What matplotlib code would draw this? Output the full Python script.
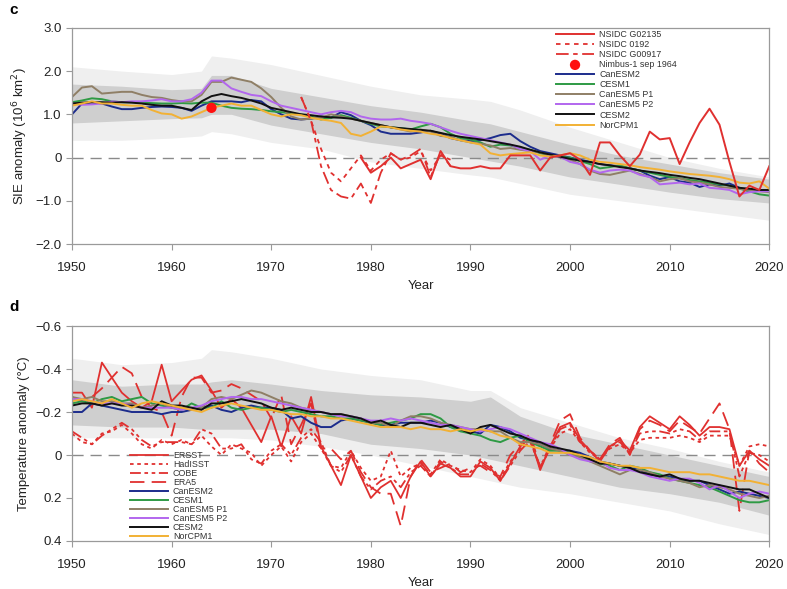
import numpy as np
import matplotlib
matplotlib.use('Agg')
import matplotlib.pyplot as plt

plt.rcParams['font.family'] = ['Liberation Sans', 'DejaVu Sans']

years = list(range(1950, 2021))
band_years = [1950, 1955, 1960, 1963, 1964, 1966, 1970, 1975, 1980, 1985,
              1990, 1992, 1995, 2000, 2005, 2010, 2015, 2020]

model_names = ['CanESM2', 'CESM1', 'CanESM5 P1', 'CanESM5 P2', 'CESM2', 'NorCPM1']
model_colors = ['#1c2c8c', '#2e9a44', '#8f7f66', '#b266ee', '#111111', '#f2b134']

#----- panel c : September sea ice extent anomaly (10^6 km2) -----#
sie_canesm2 = [1.00, 1.25, 1.28, 1.25, 1.18, 1.12, 1.12, 1.15, 1.17, 1.18,
               1.17, 1.15, 1.08, 1.20, 1.30, 1.30, 1.30, 1.28, 1.33, 1.30,
               1.12, 1.00, 0.90, 0.88, 0.90, 0.95, 0.92, 1.05, 0.98, 0.85,
               0.75, 0.60, 0.55, 0.55, 0.55, 0.58, 0.62, 0.55, 0.45, 0.40,
               0.38, 0.40, 0.45, 0.52, 0.55, 0.38, 0.25, 0.15, 0.10, 0.05,
               0.00, -0.05, -0.10, -0.15, -0.18, -0.20, -0.25, -0.30, -0.42, -0.50,
               -0.45, -0.55, -0.58, -0.68, -0.62, -0.65, -0.60, -0.70, -0.78, -0.75,
               -0.78]
sie_cesm1 = [1.28, 1.32, 1.37, 1.35, 1.30, 1.28, 1.28, 1.27, 1.26, 1.25,
             1.25, 1.26, 1.25, 1.27, 1.27, 1.20, 1.15, 1.13, 1.12, 1.10,
             1.07, 1.05, 1.02, 1.00, 0.95, 0.88, 0.92, 0.98, 0.92, 0.85,
             0.78, 0.72, 0.70, 0.68, 0.65, 0.72, 0.78, 0.70, 0.55, 0.45,
             0.42, 0.35, 0.25, 0.30, 0.28, 0.22, 0.18, 0.10, 0.05, 0.02,
             0.00, -0.08, -0.15, -0.25, -0.22, -0.18, -0.25, -0.30, -0.35, -0.40,
             -0.45, -0.48, -0.52, -0.55, -0.58, -0.62, -0.65, -0.72, -0.78, -0.85,
             -0.88]
sie_canesm5_p1 = [1.40, 1.62, 1.65, 1.48, 1.50, 1.52, 1.52, 1.45, 1.40, 1.38,
                  1.33, 1.30, 1.30, 1.45, 1.75, 1.75, 1.85, 1.80, 1.75, 1.60,
                  1.40, 1.15, 0.95, 0.88, 0.90, 0.92, 1.00, 0.95, 0.90, 0.85,
                  0.80, 0.75, 0.70, 0.65, 0.60, 0.65, 0.60, 0.50, 0.48, 0.40,
                  0.35, 0.32, 0.28, 0.20, 0.22, 0.18, 0.15, 0.12, 0.05, 0.00,
                  -0.05, -0.15, -0.30, -0.38, -0.40, -0.35, -0.30, -0.38, -0.45, -0.55,
                  -0.50, -0.48, -0.55, -0.58, -0.62, -0.68, -0.70, -0.72, -0.75, -0.78,
                  -0.80]
sie_canesm5_p2 = [1.25, 1.22, 1.23, 1.25, 1.30, 1.28, 1.30, 1.30, 1.32, 1.35,
                  1.30, 1.30, 1.35, 1.50, 1.78, 1.78, 1.60, 1.52, 1.45, 1.42,
                  1.30, 1.20, 1.15, 1.10, 1.05, 1.00, 1.05, 1.08, 1.05, 0.95,
                  0.90, 0.88, 0.88, 0.90, 0.85, 0.82, 0.78, 0.70, 0.62, 0.55,
                  0.50, 0.45, 0.40, 0.35, 0.30, 0.20, 0.15, -0.05, 0.05, 0.02,
                  -0.10, -0.15, -0.28, -0.35, -0.30, -0.28, -0.30, -0.40, -0.45, -0.62,
                  -0.60, -0.58, -0.62, -0.60, -0.70, -0.72, -0.75, -0.85, -0.80, -0.78,
                  -0.78]
sie_cesm2 = [1.25, 1.27, 1.28, 1.28, 1.27, 1.28, 1.27, 1.25, 1.22, 1.20,
             1.20, 1.15, 1.10, 1.30, 1.42, 1.47, 1.42, 1.38, 1.32, 1.25,
             1.15, 1.10, 1.05, 1.00, 0.98, 0.95, 0.93, 0.92, 0.90, 0.85,
             0.80, 0.75, 0.70, 0.68, 0.66, 0.64, 0.62, 0.57, 0.52, 0.48,
             0.45, 0.42, 0.38, 0.34, 0.30, 0.25, 0.18, 0.12, 0.07, 0.02,
             -0.03, -0.07, -0.10, -0.15, -0.18, -0.22, -0.25, -0.30, -0.33, -0.36,
             -0.40, -0.43, -0.47, -0.50, -0.55, -0.60, -0.65, -0.70, -0.72, -0.75,
             -0.75]
sie_norcpm1 = [1.20, 1.25, 1.30, 1.25, 1.25, 1.22, 1.20, 1.20, 1.10, 1.02,
               1.00, 0.90, 0.95, 1.05, 1.15, 1.20, 1.25, 1.20, 1.20, 1.10,
               1.00, 0.95, 1.00, 0.98, 0.92, 0.88, 0.85, 0.80, 0.55, 0.50,
               0.60, 0.72, 0.70, 0.65, 0.62, 0.60, 0.55, 0.52, 0.45, 0.40,
               0.35, 0.30, 0.10, 0.05, 0.08, 0.10, 0.12, 0.05, 0.02, 0.05,
               0.10, 0.05, -0.05, -0.10, -0.12, -0.15, -0.18, -0.22, -0.25, -0.28,
               -0.32, -0.35, -0.38, -0.40, -0.42, -0.45, -0.50, -0.58, -0.60, -0.55,
               -0.72]

# observations
g02135_years = list(range(1979, 2021))
g02135 = [0.00, -0.35, -0.20, 0.00, -0.25, -0.15, -0.05, -0.50, 0.15, -0.20,
          -0.25, -0.25, -0.20, -0.25, -0.25, 0.05, 0.05, 0.05, -0.30, 0.00,
          0.05, 0.10, -0.05, -0.40, 0.35, 0.35, 0.05, -0.20, 0.07, 0.60,
          0.42, 0.45, -0.15, 0.35, 0.80, 1.13, 0.76, -0.10, -0.90, -0.65,
          -0.75, -0.20]
nsidc0192_years = list(range(1973, 1989))
nsidc0192 = [1.40, 0.85, 0.20, -0.35, -0.55, -0.25, 0.05, -0.30, -0.05, 0.10,
             -0.05, 0.00, 0.15, -0.30, 0.05, -0.05]
g00917_years = list(range(1973, 1989))
g00917 = [1.40, 0.85, -0.20, -0.75, -0.90, -0.95, -0.60, -1.05, -0.35, 0.10,
          -0.05, 0.05, 0.20, -0.45, 0.10, -0.20]
nimbus_year = 1964
nimbus_sie = 1.15

# ensemble spread (outer and inner envelopes)
sie_outer_hi = [2.10, 2.00, 1.92, 2.00, 2.35, 2.30, 2.15, 1.90, 1.65, 1.45,
                1.35, 1.30, 1.10, 0.70, 0.35, 0.00, -0.25, -0.45]
sie_outer_lo = [0.40, 0.40, 0.45, 0.50, 0.60, 0.55, 0.35, 0.20, -0.10, -0.25,
                -0.40, -0.45, -0.60, -0.85, -1.00, -1.15, -1.30, -1.45]
sie_inner_hi = [1.70, 1.65, 1.57, 1.60, 1.90, 1.90, 1.60, 1.40, 1.20, 1.05,
                0.85, 0.78, 0.60, 0.30, 0.05, -0.15, -0.35, -0.50]
sie_inner_lo = [0.80, 0.85, 0.90, 0.92, 1.00, 1.00, 0.75, 0.55, 0.35, 0.20,
                0.00, -0.08, -0.20, -0.45, -0.62, -0.80, -0.95, -1.05]

#----- panel d : temperature anomaly (deg C) -----#
t_canesm2 = [-0.20, -0.20, -0.24, -0.23, -0.22, -0.21, -0.20, -0.20, -0.20, -0.19,
             -0.20, -0.20, -0.21, -0.22, -0.23, -0.21, -0.20, -0.22, -0.23, -0.22,
             -0.22, -0.21, -0.17, -0.18, -0.15, -0.13, -0.13, -0.16, -0.17, -0.16,
             -0.15, -0.14, -0.14, -0.15, -0.15, -0.15, -0.16, -0.15, -0.13, -0.12,
             -0.11, -0.10, -0.14, -0.13, -0.11, -0.08, -0.07, -0.05, -0.03, -0.02,
             -0.02, -0.01, 0.01, 0.03, 0.04, 0.05, 0.06, 0.07, 0.09, 0.10,
             0.10, 0.11, 0.12, 0.12, 0.14, 0.16, 0.18, 0.17, 0.18, 0.19,
             0.20]
t_cesm1 = [-0.24, -0.25, -0.24, -0.26, -0.27, -0.25, -0.26, -0.27, -0.24, -0.23,
           -0.22, -0.21, -0.24, -0.22, -0.22, -0.25, -0.22, -0.21, -0.22, -0.22,
           -0.21, -0.20, -0.21, -0.20, -0.19, -0.18, -0.18, -0.17, -0.17, -0.16,
           -0.15, -0.14, -0.15, -0.16, -0.17, -0.19, -0.19, -0.17, -0.13, -0.11,
           -0.10, -0.09, -0.07, -0.06, -0.08, -0.09, -0.06, -0.04, -0.02, -0.02,
           -0.01, 0.01, 0.02, 0.04, 0.05, 0.07, 0.05, 0.06, 0.08, 0.09,
           0.11, 0.12, 0.13, 0.14, 0.15, 0.17, 0.19, 0.21, 0.22, 0.22,
           0.21]
t_canesm5_p1 = [-0.27, -0.26, -0.27, -0.25, -0.25, -0.24, -0.24, -0.22, -0.23, -0.24,
                -0.22, -0.22, -0.21, -0.22, -0.26, -0.27, -0.26, -0.28, -0.30, -0.29,
                -0.27, -0.25, -0.24, -0.22, -0.21, -0.20, -0.19, -0.19, -0.18, -0.17,
                -0.15, -0.15, -0.13, -0.16, -0.18, -0.18, -0.17, -0.15, -0.14, -0.13,
                -0.12, -0.12, -0.11, -0.11, -0.08, -0.06, -0.06, -0.05, -0.03, -0.02,
                0.00, 0.01, 0.03, 0.05, 0.07, 0.09, 0.07, 0.07, 0.08, 0.10,
                0.11, 0.12, 0.13, 0.15, 0.14, 0.15, 0.16, 0.18, 0.19, 0.20,
                0.19]
t_canesm5_p2 = [-0.26, -0.26, -0.25, -0.24, -0.24, -0.24, -0.23, -0.22, -0.22, -0.22,
                -0.22, -0.21, -0.22, -0.23, -0.25, -0.26, -0.27, -0.27, -0.26, -0.26,
                -0.25, -0.24, -0.23, -0.22, -0.21, -0.20, -0.19, -0.18, -0.18, -0.17,
                -0.16, -0.16, -0.17, -0.16, -0.17, -0.16, -0.15, -0.14, -0.14, -0.13,
                -0.12, -0.11, -0.12, -0.13, -0.12, -0.10, -0.08, -0.06, -0.05, -0.03,
                0.00, 0.02, 0.03, 0.03, 0.06, 0.07, 0.07, 0.08, 0.10, 0.11,
                0.12, 0.11, 0.11, 0.13, 0.16, 0.14, 0.17, 0.20, 0.18, 0.17,
                0.18]
t_cesm2 = [-0.23, -0.24, -0.24, -0.23, -0.24, -0.23, -0.23, -0.22, -0.21, -0.25,
           -0.23, -0.23, -0.22, -0.21, -0.24, -0.24, -0.25, -0.26, -0.25, -0.24,
           -0.22, -0.21, -0.22, -0.21, -0.20, -0.20, -0.19, -0.19, -0.18, -0.17,
           -0.15, -0.16, -0.14, -0.13, -0.15, -0.15, -0.14, -0.13, -0.14, -0.12,
           -0.10, -0.13, -0.14, -0.12, -0.10, -0.09, -0.07, -0.06, -0.04, -0.03,
           -0.02, 0.00, 0.02, 0.04, 0.04, 0.05, 0.06, 0.08, 0.09, 0.10,
           0.09, 0.11, 0.12, 0.12, 0.13, 0.14, 0.15, 0.16, 0.16, 0.18,
           0.20]
t_norcpm1 = [-0.25, -0.26, -0.25, -0.24, -0.26, -0.24, -0.22, -0.24, -0.25, -0.24,
             -0.23, -0.22, -0.21, -0.20, -0.22, -0.23, -0.24, -0.23, -0.22, -0.21,
             -0.21, -0.20, -0.19, -0.19, -0.18, -0.18, -0.17, -0.17, -0.16, -0.15,
             -0.14, -0.13, -0.13, -0.13, -0.12, -0.13, -0.12, -0.12, -0.11, -0.12,
             -0.11, -0.12, -0.11, -0.09, -0.08, -0.05, -0.04, -0.03, -0.01, -0.01,
             -0.01, 0.00, 0.01, 0.03, 0.04, 0.05, 0.05, 0.06, 0.06, 0.07,
             0.08, 0.08, 0.08, 0.09, 0.09, 0.10, 0.11, 0.12, 0.12, 0.13,
             0.14]

t_ersst = [-0.29, -0.29, -0.22, -0.43, -0.36, -0.29, -0.25, -0.22, -0.25, -0.42,
           -0.25, -0.30, -0.35, -0.37, -0.30, -0.22, -0.26, -0.22, -0.14, -0.06,
           -0.18, -0.04, -0.18, -0.10, -0.27, -0.04, 0.05, 0.14, 0.00, 0.10,
           0.20, 0.15, 0.12, 0.20, 0.10, 0.03, 0.10, 0.04, 0.06, 0.10,
           0.10, 0.03, 0.06, 0.12, 0.04, -0.04, -0.08, 0.07, -0.04, -0.13,
           -0.15, -0.07, -0.02, 0.03, -0.04, -0.07, -0.02, -0.13, -0.18, -0.15,
           -0.12, -0.18, -0.14, -0.09, -0.13, -0.13, -0.12, 0.05, -0.02, 0.02,
           0.05]
t_hadisst = [-0.10, -0.06, -0.05, -0.10, -0.11, -0.14, -0.10, -0.05, -0.03, -0.07,
             -0.05, -0.07, -0.05, -0.09, -0.04, 0.00, -0.05, -0.03, -0.01, 0.05,
             0.00, -0.04, 0.03, -0.06, -0.10, -0.03, 0.05, 0.06, -0.02, 0.06,
             0.12, 0.10, -0.02, 0.10, 0.06, 0.04, 0.09, 0.02, 0.05, 0.07,
             0.08, 0.02, 0.05, 0.11, 0.03, -0.03, -0.06, 0.05, -0.03, -0.10,
             -0.12, -0.06, -0.01, 0.02, -0.03, -0.05, -0.01, -0.07, -0.08, -0.08,
             -0.08, -0.09, -0.08, -0.06, -0.09, -0.09, -0.09, 0.05, -0.04, -0.05,
             -0.04]
t_cobe = [-0.11, -0.08, -0.05, -0.09, -0.12, -0.15, -0.12, -0.07, -0.04, -0.06,
          -0.06, -0.06, -0.05, -0.12, -0.10, -0.03, -0.03, -0.05, 0.02, 0.04,
          -0.02, -0.05, 0.00, -0.08, -0.12, -0.06, 0.05, 0.08, 0.00, 0.10,
          0.16, 0.12, 0.10, 0.15, 0.08, 0.05, 0.10, 0.03, 0.06, 0.09,
          0.09, 0.04, 0.07, 0.12, 0.05, -0.02, -0.07, 0.06, -0.03, -0.12,
          -0.14, -0.06, -0.02, 0.02, -0.04, -0.06, -0.01, -0.10, -0.11, -0.11,
          -0.10, -0.12, -0.11, -0.07, -0.11, -0.11, -0.11, 0.10, -0.01, 0.00,
          0.03]
t_era5 = [-0.27, -0.25, -0.27, -0.31, -0.36, -0.41, -0.38, -0.27, -0.22, -0.20,
          -0.09, -0.27, -0.36, -0.36, -0.29, -0.30, -0.33, -0.31, -0.28, -0.25,
          -0.17, -0.28, -0.05, -0.14, -0.24, -0.03, -0.03, 0.02, -0.02, 0.08,
          0.15, 0.18, 0.18, 0.33, 0.10, 0.02, 0.08, 0.06, 0.04, 0.08,
          0.06, 0.05, 0.08, 0.10, 0.00, -0.05, -0.10, 0.06, -0.05, -0.16,
          -0.19, -0.08, -0.02, 0.02, -0.05, -0.08, 0.00, -0.12, -0.16, -0.14,
          -0.11, -0.16, -0.13, -0.10, -0.17, -0.24, -0.12, 0.26, -0.02, 0.04,
          0.08]

t_outer_lo = [-0.45, -0.42, -0.43, -0.45, -0.49, -0.48, -0.45, -0.40, -0.37, -0.35,
              -0.30, -0.30, -0.22, -0.15, -0.08, -0.03, 0.03, 0.08]
t_outer_hi = [-0.08, -0.08, -0.08, -0.08, -0.08, -0.08, -0.07, -0.04, 0.00, 0.05,
              0.10, 0.12, 0.15, 0.18, 0.22, 0.26, 0.32, 0.37]
t_inner_lo = [-0.35, -0.32, -0.33, -0.33, -0.34, -0.35, -0.33, -0.30, -0.28, -0.27,
              -0.25, -0.27, -0.18, -0.10, -0.05, 0.00, 0.05, 0.10]
t_inner_hi = [-0.14, -0.13, -0.13, -0.12, -0.12, -0.12, -0.12, -0.10, -0.05, -0.03,
              0.00, 0.02, 0.05, 0.10, 0.15, 0.18, 0.22, 0.28]

sie_models = [sie_canesm2, sie_cesm1, sie_canesm5_p1, sie_canesm5_p2, sie_cesm2, sie_norcpm1]
t_models = [t_canesm2, t_cesm1, t_canesm5_p1, t_canesm5_p2, t_cesm2, t_norcpm1]

obs_red = '#e0302f'
spine_col = '#9a9a9a'
tick_size = 9.5


def style_axes(ax):
    for s in ax.spines.values():
        s.set_color(spine_col)
        s.set_linewidth(0.9)
    ax.tick_params(colors=spine_col, labelcolor='#222222', labelsize=tick_size,
                   length=4, width=0.8)
    ax.tick_params(axis='x', pad=9)
    ax.set_xlim(1950, 2020)
    ax.set_xticks([1950, 1960, 1970, 1980, 1990, 2000, 2010, 2020])
    ax.set_xlabel('Year', fontsize=tick_size, color='#222222')


fig = plt.figure(figsize=(7.87, 5.89), dpi=100)

#-----------------------------------
#          panel c (SIE)
#-----------------------------------
ax1 = fig.add_axes([0.0915, 0.5857, 0.886, 0.367])
ax1.fill_between(band_years, sie_outer_lo, sie_outer_hi, color='#efefef', lw=0)
ax1.fill_between(band_years, sie_inner_lo, sie_inner_hi, color='#cfcfcf', lw=0)
ax1.axhline(0, color='#8a8a8a', lw=1.0, dashes=(8, 5))

for vals, name, col in zip(sie_models, model_names, model_colors):
    ax1.plot(years, vals, color=col, lw=1.4, label=name)

l1, = ax1.plot(g02135_years, g02135, color=obs_red, lw=1.4, label='NSIDC G02135')
l2, = ax1.plot(nsidc0192_years, nsidc0192, color=obs_red, lw=1.3,
               dashes=(2.5, 2.5), label='NSIDC 0192')
l3, = ax1.plot(g00917_years, g00917, color=obs_red, lw=1.3,
               dashes=(7, 2.5, 2.5, 2.5), label='NSIDC G00917')
pt = ax1.scatter([nimbus_year], [nimbus_sie], s=55, color='#ff1010', zorder=5,
                 edgecolors='none', label='Nimbus-1 sep 1964')

ax1.set_ylim(-2.0, 3.0)
ax1.set_yticks([-2, -1, 0, 1, 2, 3])
ax1.set_yticklabels(['\u22122.0', '\u22121.0', '0', '1.0', '2.0', '3.0'])
ax1.set_ylabel('SIE anomaly (10$^6$ km$^2$)', fontsize=tick_size, color='#222222')
style_axes(ax1)

h, lab = ax1.get_legend_handles_labels()
order = ['NSIDC G02135', 'NSIDC 0192', 'NSIDC G00917', 'Nimbus-1 sep 1964'] + model_names
hd = dict(zip(lab, h))
ax1.legend([hd[k] for k in order], order, loc='upper left',
           bbox_to_anchor=(0.694, 0.99), frameon=False, fontsize=6.4,
           labelspacing=0.12, handlelength=4.3, handletextpad=0.55,
           borderpad=0, borderaxespad=0, labelcolor='#333333')

fig.text(0.012, 0.995, 'c', fontsize=11, fontweight='bold', va='top')

#-----------------------------------
#       panel d (temperature)
#-----------------------------------
ax2 = fig.add_axes([0.0915, 0.0815, 0.886, 0.365])
ax2.fill_between(band_years, t_outer_lo, t_outer_hi, color='#efefef', lw=0)
ax2.fill_between(band_years, t_inner_lo, t_inner_hi, color='#cfcfcf', lw=0)
ax2.axhline(0, color='#8a8a8a', lw=1.0, dashes=(8, 5))

ax2.plot(years, t_ersst, color=obs_red, lw=1.3, label='ERSST')
ax2.plot(years, t_hadisst, color=obs_red, lw=1.3, dashes=(2, 2), label='HadISST')
ax2.plot(years, t_cobe, color=obs_red, lw=1.3, dashes=(6, 2, 2, 2, 2, 2), label='COBE')
ax2.plot(years, t_era5, color=obs_red, lw=1.3, dashes=(8, 4), label='ERA5')

for vals, name, col in zip(t_models, model_names, model_colors):
    ax2.plot(years, vals, color=col, lw=1.4, label=name)

ax2.set_ylim(0.4, -0.6)
ax2.set_yticks([-0.6, -0.4, -0.2, 0, 0.2, 0.4])
ax2.set_yticklabels(['\u22120.6', '\u22120.4', '\u22120.2', '0', '0.2', '0.4'])
ax2.set_ylabel('Temperature anomaly (\u00b0C)', fontsize=tick_size, color='#222222')
style_axes(ax2)

ax2.legend(loc='upper left', bbox_to_anchor=(0.083, 0.418), frameon=False,
           fontsize=6.4, labelspacing=0.0, handlelength=4.3, handletextpad=0.55,
           borderpad=0, borderaxespad=0, labelcolor='#333333')

fig.text(0.012, 0.490, 'd', fontsize=11, fontweight='bold', va='top')

plt.savefig('out.png', dpi=100)
